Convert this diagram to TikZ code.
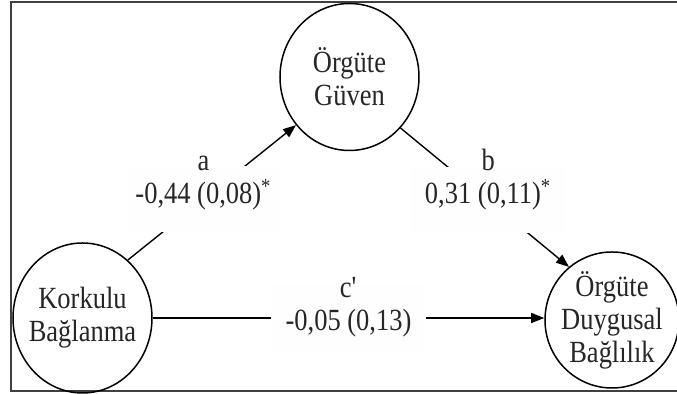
\documentclass[tikz,border=0pt]{standalone}
\usepackage{fontspec}
\setmainfont{Liberation Serif}[FakeStretch=0.86]
\usetikzlibrary{arrows.meta, shapes.geometric}
\newcommand{\diagfont}{\fontsize{15.4pt}{16.5pt}\selectfont}

\begin{document}
\begin{tikzpicture}[x=0.5pt, y=-0.5pt,
    var/.style={ellipse, draw, line width=0.75pt, inner sep=-8pt, align=center, font=\diagfont, text=black!85},
    conn/.style={line width=0.7pt, -{Triangle[length=6.5pt, width=5pt]}},
    coefbox/.style={fill=white!99.5!black, minimum width=77.5pt, minimum height=33pt, inner sep=0pt},
    coef/.style={align=center, inner sep=0pt, text depth=0pt, anchor=south, font=\diagfont, text=black!85}]
  \useasboundingbox (0,0) rectangle (677,394);
  \draw[line width=1pt, black!75] (11,2) rectangle (682,391);

  \node[var, minimum width=69.5pt, minimum height=73.5pt] (guven) at (349.5,77) {Örgüte\\Güven};
  \node[var, minimum width=69.5pt, minimum height=75pt] (korkulu) at (82.5,318) {Korkulu\\Bağlanma};
  \node[var, minimum width=67pt, minimum height=68pt] (duygusal) at (612,320) {Örgüte\\Duygusal\\Bağlılık};

  \draw[conn] (korkulu.52) -- node[coefbox, pos=0.45] (boxa) {} (guven.222);
  \draw[conn] (guven.-45) -- node[coefbox, pos=0.52] (boxb) {} (duygusal.129);
  \draw[conn] (korkulu.east) -- node[coefbox] (boxc) {} (korkulu.east -| duygusal.west);

  \node[coef] (coefa) at ([yshift=-2.5pt]boxa.center) {a\\-0,44 (0,08)\textsuperscript{*}};
  \node[coef] (coefb) at ([yshift=-2pt]boxb.center) {b\\0,31 (0,11)\textsuperscript{*}};
  \node[coef] (coefc) at ([yshift=-6.5pt]boxc.center) {c\textquotesingle\\-0,05 (0,13)};
\end{tikzpicture}
\end{document}
